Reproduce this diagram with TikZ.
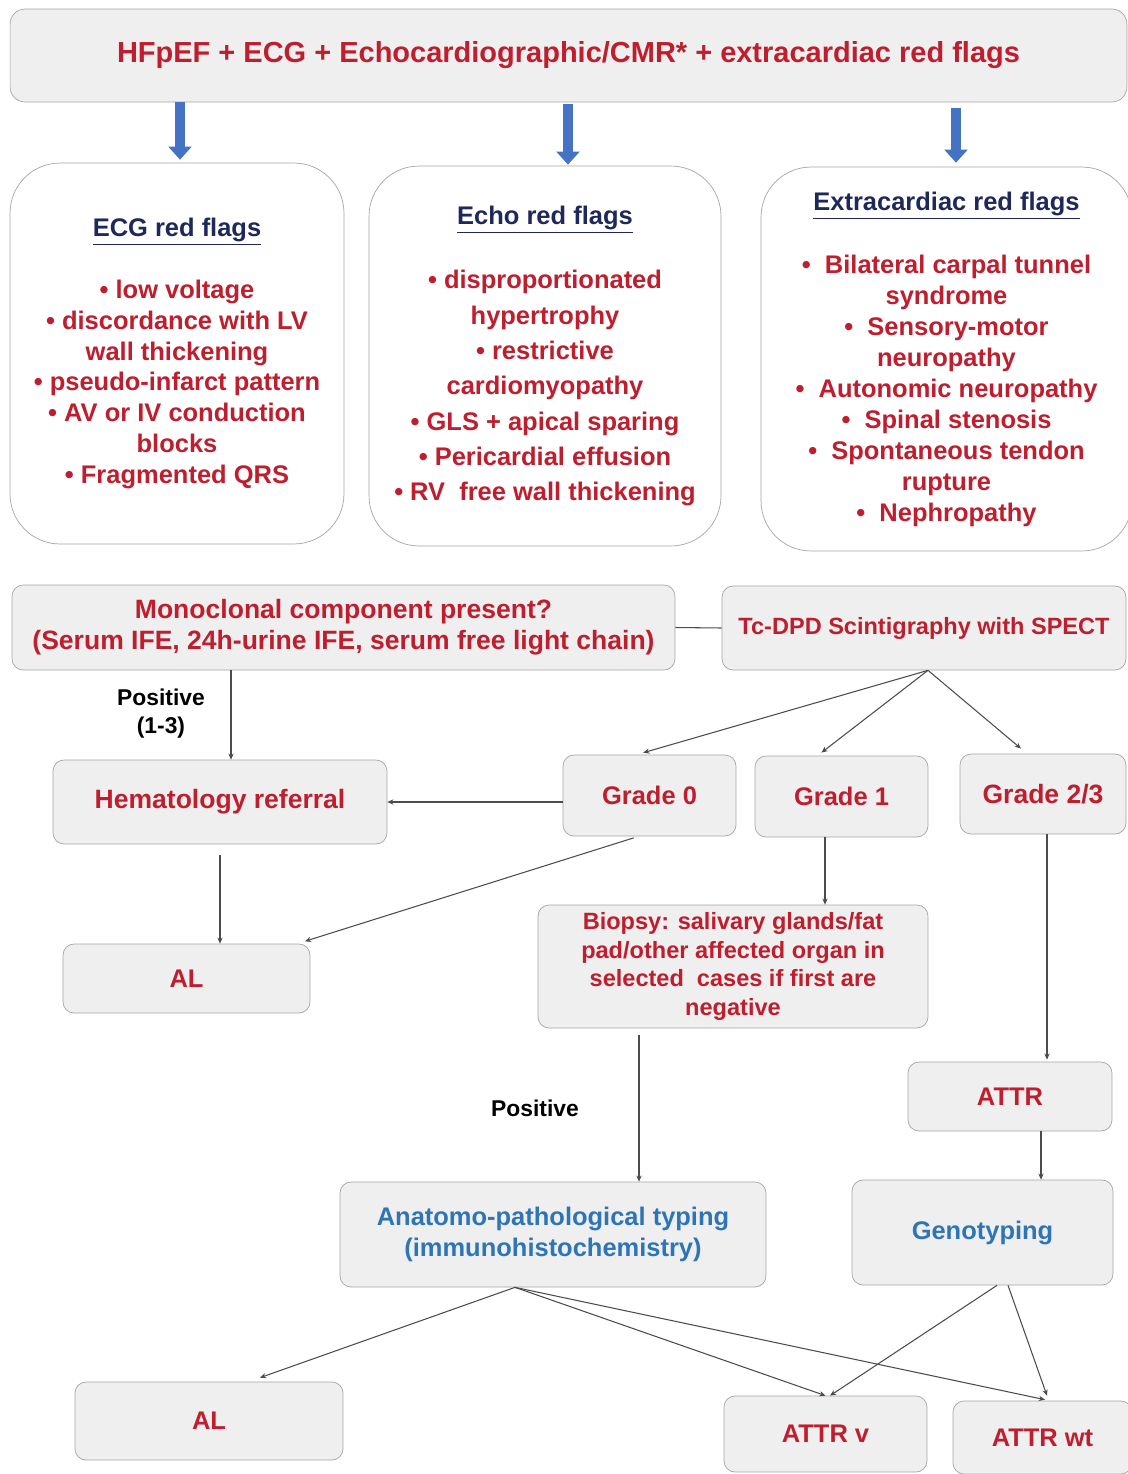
\documentclass[tikz,border=0pt]{standalone}
\usepackage{fontspec}
\setmainfont{Liberation Sans}
\usetikzlibrary{positioning,arrows.meta,calc}
\definecolor{myred}{RGB}{190,30,45}
\definecolor{mynavy}{RGB}{31,40,90}
\definecolor{myblue}{RGB}{46,117,182}
\definecolor{myarrow}{RGB}{68,114,196}
\definecolor{myfill}{RGB}{239,239,240}
\definecolor{myborder}{RGB}{165,165,170}

\begin{document}
\begin{tikzpicture}[x=0.02cm,y=-0.02cm,
	every node/.style={font=\bfseries\fontsize{14.5}{17.6}\selectfont,align=center},
	stepnode/.style={draw=myborder,fill=myfill,rounded corners=0.22cm,text=myred,inner sep=2pt},
	flagnode/.style={draw=myborder,fill=white,rounded corners=1cm,text=myred,inner sep=2pt},
	typenode/.style={stepnode,text=myblue},
	smallnode/.style={font=\bfseries\fontsize{13.4}{16.4}\selectfont},
	largenode/.style={font=\bfseries\fontsize{15.1}{17.8}\selectfont},
	labelnode/.style={text=black,font=\bfseries\fontsize{13}{16}\selectfont},
	bigarrow/.style={draw=myarrow,line width=5.7pt,-{Triangle[length=7.5pt,width=13pt]}},
	link/.style={draw=black!70,line width=0.6pt,-{Stealth[length=3.5pt,width=3pt]}},
	]
	
	\fill[white] (0,0) rectangle (1128,1474);
	\useasboundingbox (0,0) rectangle (1128,1474);
	
	% the top box
	\node[stepnode,minimum width=22.34cm,minimum height=1.86cm,rounded corners=0.3cm,
	font=\bfseries\fontsize{16.5}{19}\selectfont] (top) at (568.5,55.5)
	{HFpEF + ECG + Echocardiographic/CMR* + extracardiac red flags};
	
	% red flags
	\node[flagnode,minimum width=6.68cm,minimum height=7.62cm] (ecg) at (177,353.5)
	{\textcolor{mynavy}{\underline{ECG red flags}}\\[17.6pt]
		• low voltage\\ • discordance with LV\\ wall thickening\\ • pseudo-infarct pattern\\
		• AV or IV conduction\\ blocks\\ • Fragmented QRS};
	\node[flagnode,minimum width=7.04cm,minimum height=7.6cm,
	font=\bfseries\fontsize{14.5}{20.1}\selectfont] (echo) at (545,356)
	{\textcolor{mynavy}{\underline{Echo red flags}}\\[16.7pt]
		• disproportionated\\ hypertrophy\\ • restrictive\\ cardiomyopathy\\
		• GLS + apical sparing\\ • Pericardial effusion\\ • RV\ \ free wall thickening};
	\node[flagnode,minimum width=7.42cm,minimum height=7.68cm] (extra) at (946.5,359)
	{\textcolor{mynavy}{\underline{Extracardiac red flags}}\\[18.6pt]
		•\ \ Bilateral carpal tunnel\\ syndrome\\ •\ \ Sensory-motor\\ neuropathy\\
		•\ \ Autonomic neuropathy\\ •\ \ Spinal stenosis\\ •\ \ Spontaneous tendon\\ rupture\\
		•\ \ Nephropathy};
	
	\draw[bigarrow] ([xshift=0.06cm]ecg.north |- top.south) -- ([xshift=0.06cm,yshift=0.06cm]ecg.north);
	\draw[bigarrow] ([xshift=0.46cm,yshift=-0.04cm]echo.north |- top.south) -- ([xshift=0.46cm,yshift=0.02cm]echo.north);
	\draw[bigarrow] ([xshift=0.19cm,yshift=-0.12cm]extra.north |- top.south) -- ([xshift=0.19cm,yshift=0.08cm]extra.north);
	
	% work-up
	\node[stepnode,largenode,minimum width=13.26cm,minimum height=1.7cm] (mono) at (343.5,627.5)
	{Monoclonal component present?\\(Serum IFE, 24h-urine IFE, serum free light chain)};
	\node[stepnode,smallnode,minimum width=8.08cm,minimum height=1.68cm] (tc) at (924,628)
	{Tc-DPD Scintigraphy with SPECT};
	\node[stepnode,largenode,minimum width=6.68cm,minimum height=1.68cm] (hema) at (220,802) {Hematology referral};
	
	% grades
	\node[stepnode,minimum width=3.46cm,minimum height=1.62cm] (g0) at (649.5,795.5) {Grade 0};
	\node[stepnode,minimum width=3.46cm,minimum height=1.62cm] (g1) at (841.5,796.5) {Grade 1};
	\node[stepnode,largenode,minimum width=3.32cm,minimum height=1.6cm] (g23) at (1043,794) {Grade 2/3};
	
	\node[stepnode,minimum width=4.94cm,minimum height=1.38cm] (al1) at (186.5,978.5) {AL};
	\node[stepnode,smallnode,minimum width=7.8cm,minimum height=2.46cm] (bio) at (733,966.5)
	{Biopsy: salivary glands/fat\\pad/other affected organ in\\selected\ \ cases if first are\\negative};
	\node[stepnode,minimum width=4.08cm,minimum height=1.38cm] (attr) at (1010,1096.5) {ATTR};
	
	% typing
	\node[typenode,minimum width=8.52cm,minimum height=2.1cm] (anat) at (553,1234.5)
	{Anatomo-pathological typing\\(immunohistochemistry)};
	\node[typenode,minimum width=5.22cm,minimum height=2.1cm] (geno) at (982.5,1232.5) {Genotyping};
	
	% final diagnoses
	\node[stepnode,minimum width=5.36cm,minimum height=1.56cm] (al2) at (209,1421) {AL};
	\node[stepnode,minimum width=4.06cm,minimum height=1.52cm] (attrv) at (825.5,1434) {ATTR v};
	\node[stepnode,minimum width=3.58cm,minimum height=1.46cm] (attrwt) at (1042.5,1437.5) {ATTR wt};
	
	% labels
	\node[labelnode] (pos1) at (161,714) {Positive\\(1-3)};
	\node[labelnode] (pos2) at (535,1108) {Positive};
	
	% connectors
	\draw[draw=black!70,line width=0.6pt] (mono.east) -- (tc.west);
	\draw[link] ([xshift=0.22cm]hema.north |- mono.south) -- ([xshift=0.22cm]hema.north);
	\draw[link] (g0.west |- hema.east) -- (hema.east);
	
	\draw[link,shorten >=0.14cm] ([xshift=0.08cm]tc.south) -- ([xshift=-0.26cm]g0.north);
	\draw[link,shorten >=0.1cm] ([xshift=0.08cm]tc.south) -- ([xshift=-0.48cm]g1.north);
	\draw[link,shorten >=0.16cm] ([xshift=0.08cm]tc.south) -- ([xshift=-0.32cm]g23.north);
	
	\draw[link] ([yshift=-0.22cm]hema.south) -- (hema.south |- al1.north);
	\draw[link,shorten <=0.1cm,shorten >=0.16cm] ([xshift=-0.22cm]g0.south) -- ([xshift=-0.26cm]al1.north east);
	\draw[link] ([xshift=-0.33cm]g1.south) -- ([xshift=-0.33cm]g1.south |- bio.north);
	\draw[link] ([xshift=0.08cm]g23.south) -- ([xshift=0.08cm,yshift=0.04cm]g23.south |- attr.north);
	
	\draw[link] ([xshift=-1.88cm,yshift=-0.14cm]bio.south) -- ([xshift=-1.88cm]bio.south |- anat.north);
	\draw[link] ([xshift=0.62cm]attr.south) -- ([xshift=0.62cm]attr.south |- geno.north);
	
	\draw[link] ([xshift=-0.76cm]anat.south) -- ([xshift=1.02cm,yshift=0.08cm]al2.north);
	\draw[link] ([xshift=-0.76cm]anat.south) -- (attrv.north);
	\draw[link] ([xshift=-0.76cm]anat.south) -- ([xshift=0.05cm,yshift=0.02cm]attrwt.north);
	\draw[link] ([xshift=0.29cm]geno.south) -- ([xshift=0.09cm]attrv.north);
	\draw[link] ([xshift=0.51cm]geno.south) -- ([xshift=0.09cm,yshift=0.1cm]attrwt.north);
	
\end{tikzpicture}
\end{document}
